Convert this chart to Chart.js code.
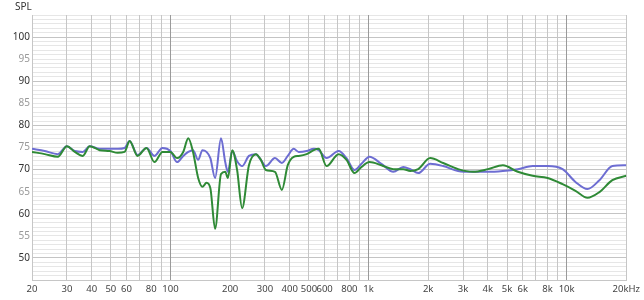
<!DOCTYPE html>
<html>
<head>
<meta charset="utf-8">
<script src="https://cdn.jsdelivr.net/npm/chart.js@4"></script>
<style>
html,body{margin:0;padding:0;background:#fff;}
#wrap{width:644px;height:300px;position:relative;}
</style>
</head>
<body>
<div id="wrap"><canvas id="c" width="644" height="300"></canvas></div>
<script>
// Frequencies (Hz)
const freqs = [20,23.2,27,30,32.9,36.1,39.1,43.9,49.3,54.1,58.7,62.2,68.2,75.7,83,91.1,100,108,116,123,130,138,145,152,159,168,180,189,195,205,217,230,249,270,286,303,337,365,391,419,444,487,529,560,614,706,774,849,921,1010,1161,1334,1497,1624,1781,2047,2380,2830,3368,4007,4765,5668,6740,8018,9538,11080,12736,14634,17010,20000];
// Green series (SPL dB)
const greenSPL = [74.0,73.5,72.9,75.3,74.0,73.1,75.3,74.4,74.2,73.8,74.0,76.5,73.1,74.9,71.7,74.0,74.0,72.6,74.0,77.1,74.0,68.1,66.1,67.0,65.8,56.6,69.0,69.5,68.1,74.4,69.9,61.3,71.0,73.5,72.2,69.9,69.5,65.4,71.0,72.9,73.1,73.5,74.4,74.7,70.8,73.5,72.2,69.2,70.6,71.7,71.0,70.1,70.1,69.7,70.1,72.6,71.5,70.1,69.5,70.1,71.0,69.5,68.6,68.1,66.7,65.2,63.6,64.9,67.6,68.6];
// Blue series (SPL dB)
const blueSPL = [74.7,74.2,73.5,75.3,74.2,74.0,75.3,74.7,74.7,74.7,74.9,76.5,73.3,74.9,73.1,74.9,74.2,71.7,73.1,74.0,74.4,72.2,74.4,74.0,72.6,68.1,77.1,71.7,69.5,74.2,71.9,70.8,73.1,73.5,72.2,70.8,72.6,71.5,73.1,74.7,74.0,74.2,74.7,74.4,72.6,74.2,72.6,69.9,71.3,72.9,71.3,69.5,70.6,70.1,69.2,71.3,70.8,69.7,69.5,69.5,69.7,70.1,70.8,70.8,70.1,67.2,65.6,67.6,70.8,71.0];
// Axis ticks
const xGridValues = [20,30,40,50,60,70,80,90,100,200,300,400,500,600,700,800,900,1000,2000,3000,4000,5000,6000,7000,8000,9000,10000,20000];
const xTickLabels = {20:'20',30:'30',40:'40',50:'50',60:'60',80:'80',100:'100',200:'200',300:'300',400:'400',500:'500',600:'600',800:'800',1000:'1k',2000:'2k',3000:'3k',4000:'4k',5000:'5k',6000:'6k',8000:'8k',10000:'10k',20000:'20kHz'};
const yLabelValues = [50,55,60,65,70,75,80,85,90,95,100];
const yAxisTitle = 'SPL';

const toPts = (vals) => freqs.map((f, i) => ({x: f, y: vals[i]}));

const titlePlugin = {
  id: 'splTitle',
  afterDraw(chart) {
    const ctx = chart.ctx;
    ctx.save();
    ctx.font = '10px "Noto Sans", sans-serif';
    ctx.fillStyle = '#333';
    ctx.textAlign = 'left';
    ctx.textBaseline = 'middle';
    ctx.fillText(yAxisTitle, 15, 7);
    ctx.restore();
  }
};

new Chart(document.getElementById('c'), {
  type: 'line',
  data: {
    datasets: [
      {data: toPts(greenSPL), borderColor: '#2f8a36', borderWidth: 2, pointRadius: 0, cubicInterpolationMode: 'monotone', fill: false},
      {data: toPts(blueSPL), borderColor: '#6d6dd2', borderWidth: 2, pointRadius: 0, cubicInterpolationMode: 'monotone', fill: false}
    ]
  },
  options: {
    responsive: false,
    animation: false,
    devicePixelRatio: 1,
    layout: {padding: {top: 15, right: 16, left: 0, bottom: 0}},
    plugins: {legend: {display: false}, tooltip: {enabled: false}},
    scales: {
      x: {
        type: 'logarithmic',
        min: 20, max: 20000,
        afterBuildTicks: (s) => { s.ticks = xGridValues.map(v => ({value: v})); },
        afterFit: (s) => { s.height = 20; },
        ticks: {
          autoSkip: false, maxRotation: 0, minRotation: 0, padding: 4,
          color: '#444',
          font: {family: '"Noto Sans", sans-serif', size: 9.5},
          callback: (v) => xTickLabels[v] || ''
        },
        grid: {
          z: -1,
          drawTicks: false,
          color: (c) => ([100,1000,10000].includes(c.tick && c.tick.value) ? '#9a9a9a' : '#c6c6c6'),
          lineWidth: 1
        },
        border: {display: true, color: '#c6c6c6'}
      },
      y: {
        type: 'linear',
        min: 45, max: 105,
        afterBuildTicks: (s) => { const t = []; for (let v = 45; v <= 105; v++) t.push({value: v}); s.ticks = t; },
        afterFit: (s) => { s.width = 32; },
        ticks: {
          autoSkip: false,
          padding: 2,
          color: (c) => (c.tick.value % 10 === 0 ? '#333' : '#999'),
          font: {family: '"Noto Sans", sans-serif', size: 10},
          callback: (v) => (yLabelValues.includes(v) ? String(v) : '')
        },
        grid: {
          z: -2,
          drawTicks: false,
          color: (c) => (c.tick.value % 10 === 0 ? '#c4c4c4' : '#e6e6e6'),
          lineWidth: 1
        },
        border: {display: true, color: '#c6c6c6'}
      }
    }
  },
  plugins: [titlePlugin]
});
</script>
</body>
</html>
